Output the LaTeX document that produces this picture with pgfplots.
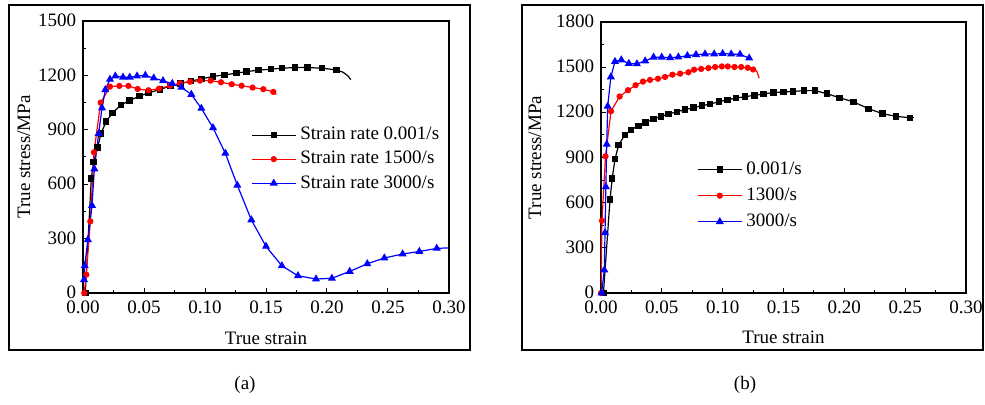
\documentclass[border=0pt]{standalone}
\usepackage{pgfplots}
\pgfplotsset{compat=1.18}
\usepackage{fontspec}
\setmainfont{Liberation Serif}
\newcommand{\fs}{\fontsize{9.5}{11}\selectfont}

\pgfplotsset{
 myax/.style={
  scale only axis,
  anchor=south west,
  xmin=0,xmax=0.3,ymin=0,
  xtick={0,0.05,0.1,0.15,0.2,0.25,0.3},
  minor x tick num=1, minor y tick num=1,
  tick align=inside, xtick pos=bottom, ytick pos=left,
  major tick length=2.5pt, minor tick length=1.5pt,
  /pgf/number format/assume math mode=true,
  /pgf/number format/1000 sep={},
  xticklabel style={/pgf/number format/fixed, /pgf/number format/fixed zerofill, /pgf/number format/precision=2, inner sep=0.5pt, yshift=-3.4pt},
  yticklabel style={inner sep=0.5pt, xshift=-2.7pt, yshift=0.3pt},
  tick label style={font=\fs},
  label style={font=\fs},
  xlabel=True strain, ylabel=True stress/MPa,
  xlabel style={at={(axis description cs:0.5,-0.165)}, anchor=center},
  axis line style={line width=0.6pt},
  every tick/.style={line width=0.5pt, black},
  legend style={draw=none, fill=none, font=\fs, anchor=north west, legend cell align=left},
  legend image code/.code={\draw[#1, mark repeat=2, mark phase=2] plot coordinates {(0pt,0pt)(11pt,0pt)(22pt,0pt)};},
 },
 s1/.style={black, line width=0.6pt, mark=square*, mark size=1.3pt},
 s2/.style={red, line width=0.6pt, mark=*, mark size=1.25pt},
 s3/.style={blue, line width=0.6pt, mark=triangle*, mark size=1.75pt},
}

\begin{document}
\begin{tikzpicture}
\path[use as bounding box] (0,0) rectangle (492.5pt,202.5pt);
\draw[line width=1pt] (4.5pt,27.5pt) rectangle (235pt,200pt);
\draw[line width=1pt] (261pt,27.5pt) rectangle (491.5pt,200pt);

% Panel (a)
\begin{axis}[myax, at={(41.5pt,56pt)}, width=183pt, height=136pt,
  ymax=1500, ytick={0,300,600,900,1200,1500},
  ylabel style={at={(axis description cs:-0.161,0.5)}, anchor=center},
  legend style={at={(axis description cs:0.442,0.64)}, row sep=0.2pt}]
\addplot[s1] coordinates {
(0.0019,0)(0.0068,632)(0.0087,724)(0.0120,803)(0.0148,880)(0.0189,945)
(0.0243,994)(0.0311,1037)(0.0380,1061)(0.0464,1086)(0.0538,1104)(0.0630,1122)
(0.0716,1141)(0.0798,1155)(0.0883,1168)(0.0970,1181)(0.1066,1194)(0.1160,1203)
(0.1257,1212)(0.1340,1221)(0.1440,1229)(0.1540,1234)(0.1630,1240)(0.1740,1243)
(0.1840,1243)(0.1960,1240)(0.2077,1230)};
\addlegendentry{Strain rate 0.001/s}
\addplot[s2] coordinates {
(0.0010,0)(0.0027,101)(0.0060,395)(0.0090,776)(0.0145,1050)(0.0221,1138)
(0.0298,1142)(0.0372,1142)(0.0448,1125)(0.0536,1118)(0.0623,1127)(0.0713,1143)
(0.0795,1156)(0.0877,1165)(0.0959,1171)(0.1046,1171)(0.1131,1162)(0.1219,1151)
(0.1300,1143)(0.1390,1133)(0.1478,1124)(0.1560,1109)};
\addlegendentry{Strain rate 1500/s}
\addplot[s3] coordinates {
(0.0008,73)(0.0014,150)(0.0040,294)(0.0074,482)(0.0093,684)(0.0128,879)
(0.0156,1020)(0.0183,1121)(0.0221,1178)(0.0265,1196)(0.0328,1190)(0.0383,1190)
(0.0443,1196)(0.0511,1200)(0.0580,1185)(0.0656,1170)(0.0732,1155)(0.0806,1134)
(0.0888,1095)(0.0970,1018)(0.1066,911)(0.1167,770)(0.1265,594)(0.1380,403)
(0.1500,257)(0.1630,150)(0.1762,95)(0.1910,77)(0.2040,81)(0.2186,119)
(0.2330,161)(0.2470,193)(0.2620,215)(0.2757,229)(0.2900,246)};
\addlegendentry{Strain rate 3000/s}
\addplot[black, line width=0.6pt, forget plot] coordinates {
(0.2077,1230)(0.2130,1218)(0.2170,1198)(0.2195,1177)};
\addplot[red, line width=0.6pt, forget plot] coordinates {
(0.1560,1109)(0.1585,1095)};
\addplot[blue, line width=0.6pt, forget plot] coordinates {
(0.2900,246)(0.3000,249)};
\end{axis}

% Panel (b)
\begin{axis}[myax, at={(300.5pt,56pt)}, width=182.5pt, height=135.5pt,
  ymax=1800, ytick={0,300,600,900,1200,1500,1800},
  ylabel style={at={(axis description cs:-0.181,0.5)}, anchor=center},
  legend style={at={(axis description cs:0.246,0.515)}, row sep=1.2pt}]
\addplot[s1] coordinates {
(0.0020,0)(0.0074,620)(0.0092,761)(0.0115,889)(0.0145,983)(0.0195,1049)
(0.0247,1084)(0.0307,1111)(0.0367,1133)(0.0430,1156)(0.0494,1173)(0.0554,1189)
(0.0625,1204)(0.0690,1218)(0.0760,1231)(0.0828,1244)(0.0897,1255)(0.0970,1271)
(0.1039,1282)(0.1110,1295)(0.1185,1304)(0.1260,1313)(0.1335,1322)(0.1418,1331)
(0.1500,1335)(0.1580,1339)(0.1670,1344)(0.1760,1344)(0.1856,1324)(0.1960,1297)
(0.2076,1269)(0.2200,1224)(0.2314,1191)(0.2427,1173)(0.2540,1164)};
\addlegendentry{0.001/s}
\addplot[s2] coordinates {
(0.0000,0)(0.0008,480)(0.0037,908)(0.0082,1207)(0.0153,1305)(0.0222,1347)
(0.0284,1380)(0.0345,1404)(0.0403,1415)(0.0468,1423)(0.0526,1435)(0.0587,1450)
(0.0650,1457)(0.0718,1466)(0.0765,1483)(0.0823,1488)(0.0883,1494)(0.0938,1501)
(0.0993,1505)(0.1042,1505)(0.1097,1501)(0.1152,1501)(0.1206,1496)(0.1250,1485)};
\addlegendentry{1300/s}
\addplot[s3] coordinates {
(0.0005,0)(0.0027,153)(0.0033,400)(0.0040,705)(0.0047,988)(0.0055,1240)
(0.0081,1435)(0.0115,1537)(0.0167,1548)(0.0229,1524)(0.0295,1522)(0.0363,1541)
(0.0432,1566)(0.0499,1566)(0.0568,1563)(0.0636,1567)(0.0710,1576)(0.0781,1583)
(0.0855,1587)(0.0930,1587)(0.1000,1590)(0.1070,1587)(0.1143,1585)(0.1218,1560)};
\addlegendentry{3000/s}
\addplot[black, line width=0.6pt, forget plot] coordinates {
(0.2540,1164)(0.2570,1164)};
\addplot[red, line width=0.6pt, forget plot] coordinates {
(0.1250,1485)(0.1280,1474)(0.1300,1426)};
\end{axis}

\node[font=\fs] at (122.5pt,10pt) {(a)};
\node[font=\fs] at (372.5pt,10pt) {(b)};
\end{tikzpicture}
\end{document}
